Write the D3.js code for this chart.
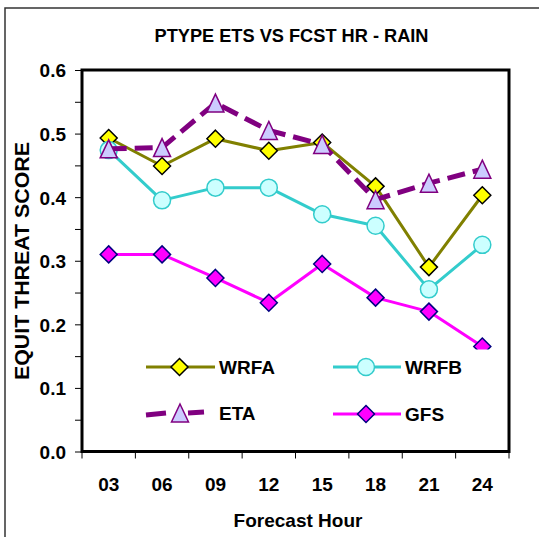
<!DOCTYPE html>
<html>
<head>
<meta charset="utf-8">
<script src="https://cdn.jsdelivr.net/npm/d3@7"></script>
<style>
  html, body { margin: 0; padding: 0; background: #fff; }
  svg { display: block; }
  text { font-family: "Liberation Sans", Arial, sans-serif; font-weight: bold; fill: #000; }
</style>
</head>
<body>
<svg id="chart" width="539" height="537"></svg>
<script>
const hours = ["03", "06", "09", "12", "15", "18", "21", "24"];
const wrfa = [0.493, 0.449, 0.492, 0.473, 0.486, 0.417, 0.290, 0.403];
const wrfb = [0.474, 0.395, 0.415, 0.415, 0.373, 0.355, 0.255, 0.325];
const eta  = [0.476, 0.478, 0.548, 0.505, 0.483, 0.396, 0.422, 0.444];
const gfs  = [0.310, 0.310, 0.273, 0.234, 0.295, 0.242, 0.220, 0.165];
const yTicks = [0, 0.05, 0.1, 0.15, 0.2, 0.25, 0.3, 0.35, 0.4, 0.45, 0.5, 0.55, 0.6];

const title = "PTYPE ETS VS FCST HR - RAIN";
const xTitle = "Forecast Hour";
const yTitle = "EQUIT THREAT SCORE";

const series = [
  { name: "WRFA", values: wrfa, line: "#808000", fill: "#FFFF00", stroke: "#000000", marker: "diamond", dash: null, width: 3 },
  { name: "WRFB", values: wrfb, line: "#33CCCC", fill: "#CCFFFF", stroke: "#33CCCC", marker: "circle", dash: null, width: 3 },
  { name: "ETA",  values: eta,  line: "#800080", fill: "#CCCCFF", stroke: "#800080", marker: "triangle", dash: "18,8", width: 5 },
  { name: "GFS",  values: gfs,  line: "#FF00FF", fill: "#FF00FF", stroke: "#000080", marker: "diamond", dash: null, width: 3 }
];

const svg = d3.select("#chart");
const L = 82, R = 509, T = 70, B = 451.5;

const x = d3.scaleBand().domain(hours).range([L, R]).paddingInner(0).paddingOuter(0);
const y = d3.scaleLinear().domain([0, 0.6]).range([B, T]);

// outer border
svg.append("rect").attr("x", 5).attr("y", 8).attr("width", 700).attr("height", 700)
  .attr("fill", "none").attr("stroke", "#333").attr("stroke-width", 1.5);

// title
svg.append("text").attr("x", 291.5).attr("y", 42).attr("text-anchor", "middle")
  .attr("font-size", 18).attr("textLength", 274).attr("lengthAdjust", "spacingAndGlyphs")
  .text(title);

// y axis
const yAxis = d3.axisLeft(y).tickValues(yTicks).tickSize(7).tickSizeOuter(0)
  .tickFormat(d => (Math.round(d * 100) % 10 === 0) ? d3.format(".1f")(d) : "");
const gy = svg.append("g").attr("transform", `translate(${L},0)`).call(yAxis);
gy.select(".domain").remove();
gy.selectAll(".tick line").attr("stroke", "#000").attr("stroke-width", 1);
gy.selectAll(".tick text").attr("x", -16).attr("dy", "0.36em").attr("font-size", 19)
  .style("font-family", "'Liberation Sans', Arial, sans-serif").style("font-weight", "bold");

// x axis labels
const xAxis = d3.axisBottom(x).tickSize(0).tickSizeOuter(0);
const gx = svg.append("g").attr("transform", `translate(0,${B})`).call(xAxis);
gx.select(".domain").remove();
gx.selectAll(".tick text").attr("y", 39).attr("dy", 0).attr("font-size", 19)
  .style("font-family", "'Liberation Sans', Arial, sans-serif").style("font-weight", "bold");

// x boundary ticks
const bounds = hours.map(h => x(h)).concat([x(hours[hours.length - 1]) + x.bandwidth()]);
svg.append("g").selectAll("line").data(bounds).join("line")
  .attr("x1", d => d).attr("x2", d => d).attr("y1", B).attr("y2", B + 7)
  .attr("stroke", "#000").attr("stroke-width", 1);

// axis titles
svg.append("text").attr("x", 298).attr("y", 527).attr("text-anchor", "middle")
  .attr("font-size", 19).text(xTitle);
svg.append("text").attr("transform", "translate(29,261) rotate(-90)").attr("text-anchor", "middle")
  .attr("font-size", 20).attr("textLength", 238).attr("lengthAdjust", "spacingAndGlyphs").text(yTitle);

function drawMarker(g, type, cx, cy, s) {
  if (type === "diamond") {
    g.append("path").attr("d", `M${cx},${cy - 8.5}L${cx + 8.5},${cy}L${cx},${cy + 8.5}L${cx - 8.5},${cy}Z`)
      .attr("fill", s.fill).attr("stroke", s.stroke).attr("stroke-width", 1.5);
  } else if (type === "circle") {
    g.append("circle").attr("cx", cx).attr("cy", cy).attr("r", 8.5)
      .attr("fill", s.fill).attr("stroke", s.stroke).attr("stroke-width", 1.5);
  } else {
    g.append("path").attr("d", `M${cx},${cy - 9}L${cx + 8.5},${cy + 9}L${cx - 8.5},${cy + 9}Z`)
      .attr("fill", s.fill).attr("stroke", s.stroke).attr("stroke-width", 1.5);
  }
}

const cxOf = h => x(h) + x.bandwidth() / 2;
const line = d3.line().x(d => cxOf(d.h)).y(d => y(d.v));

series.forEach(s => {
  const pts = hours.map((h, i) => ({ h, v: s.values[i] }));
  const g = svg.append("g");
  const p = g.append("path").datum(pts).attr("d", line).attr("fill", "none")
    .attr("stroke", s.line).attr("stroke-width", s.width).attr("stroke-linejoin", "round");
  if (s.dash) p.attr("stroke-dasharray", s.dash);
  pts.forEach(d => drawMarker(g, s.marker, cxOf(d.h), y(d.v), s));
});

// legend box (white, borderless) that covers the plot underneath
svg.append("rect").attr("x", 138).attr("y", 349.5).attr("width", 352).attr("height", 86)
  .attr("fill", "#fff");

// plot frame
svg.append("rect").attr("x", L).attr("y", T).attr("width", R - L).attr("height", B - T)
  .attr("fill", "none").attr("stroke", "#000").attr("stroke-width", 3);

// legend
const legendPos = [
  { x1: 146, x2: 215, y: 367, tx: 219 },
  { x1: 333, x2: 401, y: 367, tx: 405 },
  { x1: 146, x2: 204, y: 413, tx: 219 },
  { x1: 333, x2: 401, y: 414, tx: 405 }
];
series.forEach((s, i) => {
  const lp = legendPos[i];
  const g = svg.append("g");
  if (s.dash) {
    g.append("line").attr("x1", lp.x1).attr("x2", 166).attr("y1", lp.y + 2).attr("y2", lp.y)
      .attr("stroke", s.line).attr("stroke-width", s.width);
    g.append("line").attr("x1", 188).attr("x2", lp.x2).attr("y1", lp.y).attr("y2", lp.y - 1)
      .attr("stroke", s.line).attr("stroke-width", s.width);
    drawMarker(g, s.marker, 180, lp.y, s);
  } else {
    g.append("line").attr("x1", lp.x1).attr("x2", lp.x2).attr("y1", lp.y).attr("y2", lp.y)
      .attr("stroke", s.line).attr("stroke-width", s.width);
    drawMarker(g, s.marker, (lp.x1 + lp.x2) / 2 - 1, lp.y, s);
  }
  g.append("text").attr("x", lp.tx).attr("y", lp.y + 7).attr("font-size", 19).text(s.name);
});
</script>
</body>
</html>
